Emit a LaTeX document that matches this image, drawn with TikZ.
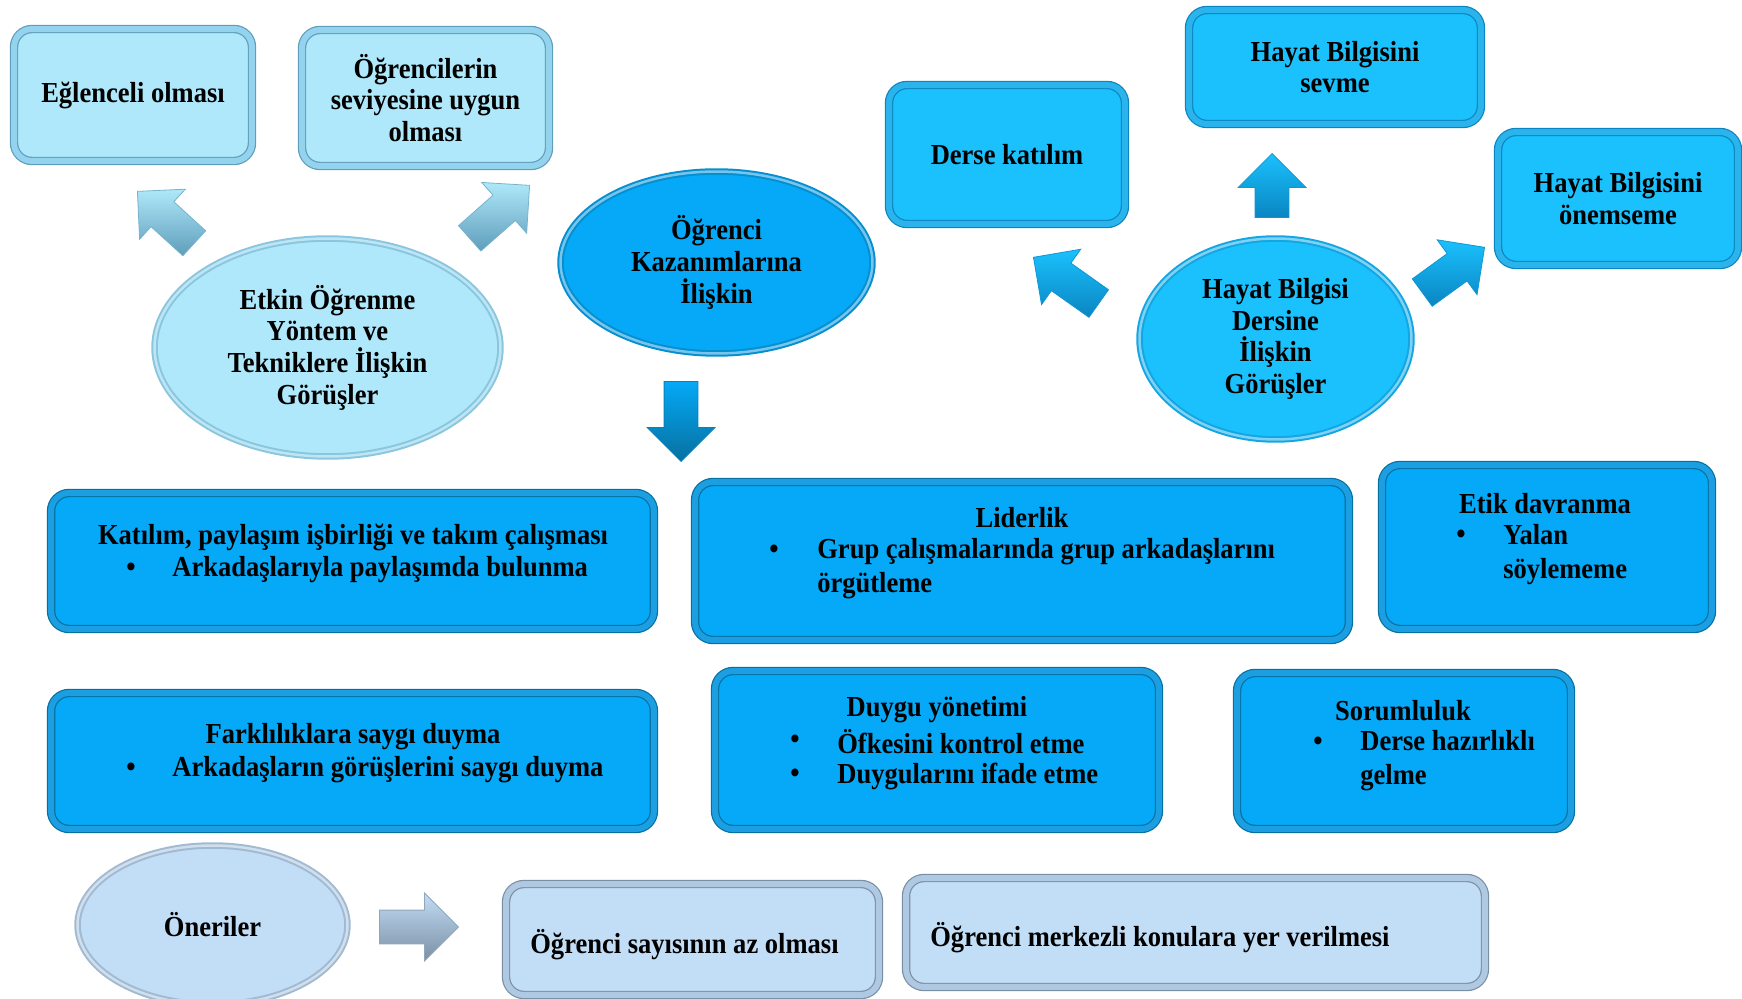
\documentclass[tikz,border=0pt]{standalone}
\usepackage{fontspec}
\setmainfont{Liberation Serif}[FakeStretch=0.915]
\usetikzlibrary{shapes, shapes.arrows, positioning}
\definecolor{lightfill}{HTML}{AEE8FA}
\definecolor{lightrim}{HTML}{93D3EE}
\definecolor{lightedge}{HTML}{5F9DBA}
\definecolor{medfill}{HTML}{1AC1FD}
\definecolor{medrim}{HTML}{2BB4EC}
\definecolor{mededge}{HTML}{0A85C2}
\definecolor{darkfill}{HTML}{05A9F7}
\definecolor{darkrim}{HTML}{1C9FE2}
\definecolor{darkedge}{HTML}{06709F}
\definecolor{palefill}{HTML}{C2DDF6}
\definecolor{palerim}{HTML}{AFC9E2}
\definecolor{paleedge}{HTML}{7A8FA3}
\tikzset{
  bevbox/.style={rectangle, rounded corners=0.36cm, fill=#1fill, draw=#1edge,
    double=#1rim, line width=0.024cm, double distance=0.12cm, inner sep=0pt, align=center},
  bevell/.style={ellipse, fill=#1fill, draw=#1edge!45!#1fill, double=#1rim!60!white,
    line width=0.04cm, double distance=0.05cm, inner sep=0pt, align=center},
  blockarr/.style={single arrow, single arrow head extend=0.34cm, single arrow tip angle=90,
    inner xsep=0pt, inner ysep=0.33cm, anchor=tip, draw=#1edge!70!#1fill, line width=0.016cm,
    top color=#1fill, bottom color=#1edge},
  bul/.style={inner sep=0pt},
  itm/.style={anchor=west, inner sep=0pt, align=left},
}

\begin{document}
\begin{tikzpicture}[x=0.02cm, y=-0.02cm, font=\bfseries\fontsize{16.5}{18}\selectfont]
    \useasboundingbox (0,0) rectangle (1742,999);

    % Etkin ogrenme group
    \node[bevbox=light, minimum width=4.76cm, minimum height=2.64cm] (eglence) at (133,95) {Eğlenceli olması};
    \node[bevbox=light, minimum width=4.94cm, minimum height=2.72cm] (seviye) at (425.5,98) {Öğrencilerin\\seviyesine uygun\\olması};
    \node[bevell=light, minimum width=6.92cm, minimum height=4.36cm] (etkin) at (327.5,347.5) {Etkin Öğrenme\\Yöntem ve\\Tekniklere İlişkin\\Görüşler};
    \node[blockarr=light, minimum height=1.54cm, rotate=137.6] (arrEg) at (137,191) {};
    \node[blockarr=light, minimum height=1.6cm, rotate=41.5] (arrSev) at (530,185) {};

    % Kazanimlar
    \node[bevell=dark, minimum width=6.24cm, minimum height=3.64cm] (kazanim) at (716.5,262.5) {Öğrenci\\Kazanımlarına\\İlişkin};
    \node[blockarr=dark, minimum height=1.6cm, rotate=-90] (arrKaz) at (681,462) {};

    % Hayat bilgisi group
    \node[bevbox=med, minimum width=4.72cm, minimum height=2.78cm] (katilim) at (1007,154.5) {Derse katılım};
    \node[bevbox=med, minimum width=5.84cm, minimum height=2.28cm] (sevme) at (1335,67) {Hayat Bilgisini\\sevme};
    \node[bevbox=med, minimum width=4.8cm, minimum height=2.66cm] (onem) at (1618,198.5) {Hayat Bilgisini\\önemseme};
    \node[bevell=med, minimum width=5.44cm, minimum height=4.02cm] (hayat) at (1275.5,339) {Hayat Bilgisi\\Dersine\\İlişkin\\Görüşler};
    \node[blockarr=med, minimum height=1.28cm, rotate=90] (arrSev2) at (1272,153) {};
    \node[blockarr=med, minimum height=1.6cm, rotate=144.7] (arrKat) at (1033,257) {};
    \node[blockarr=med, minimum height=1.54cm, rotate=36] (arrOnem) at (1485,247) {};

    % Kazanim boxes, first row
    \node[bevbox=dark, minimum width=12.06cm, minimum height=2.72cm] (takim) at (352.5,561) {};
    \node (takimT) at (353,537) {Katılım, paylaşım işbirliği ve takım çalışması};
    \node[bul] (takimB) at (131,570) {\textbullet};
    \node[itm] (takimI) at (172,570) {Arkadaşlarıyla paylaşımda bulunma};

    \node[bevbox=dark, minimum width=13.08cm, minimum height=3.16cm] (lider) at (1022,561) {};
    \node (liderT) at (1022,518) {Liderlik};
    \node[bul] (liderB) at (774,552) {\textbullet};
    \node[itm] (liderI) at (817,568.5) {Grup çalışmalarında grup arkadaşlarını\\[1pt]örgütleme};

    \node[bevbox=dark, minimum width=6.6cm, minimum height=3.28cm] (etik) at (1547,547) {};
    \node (etikT) at (1545,504) {Etik davranma};
    \node[bul] (etikB) at (1461,537) {\textbullet};
    \node[itm] (etikI) at (1503,554.5) {Yalan\\[1pt]söylememe};

    % Kazanim boxes, second row
    \node[bevbox=dark, minimum width=12.06cm, minimum height=2.72cm] (saygi) at (352.5,761) {};
    \node (saygiT) at (353,737) {Farklılıklara saygı duyma};
    \node[bul] (saygiB) at (131,770) {\textbullet};
    \node[itm] (saygiI) at (172,770) {Arkadaşların görüşlerini saygı duyma};

    \node[bevbox=dark, minimum width=8.88cm, minimum height=3.16cm] (duygu) at (937,750) {};
    \node (duyguT) at (937,710) {Duygu yönetimi};
    \node[bul] (duyguB1) at (795,742) {\textbullet};
    \node[itm] (duyguI1) at (837,742) {Öfkesini kontrol etme};
    \node[bul] (duyguB2) at (795,776) {\textbullet};
    \node[itm] (duyguI2) at (837,776) {Duygularını ifade etme};

    \node[bevbox=dark, minimum width=6.68cm, minimum height=3.12cm] (sorum) at (1404,751) {};
    \node (sorumT) at (1403,711) {Sorumluluk};
    \node[bul] (sorumB) at (1318,744) {\textbullet};
    \node[itm] (sorumI) at (1360,760.5) {Derse hazırlıklı\\[1pt]gelme};

    % Oneriler
    \node[bevell=pale, minimum width=5.4cm, minimum height=3.18cm] (oneri) at (212.5,925) {Öneriler};
    \node[blockarr=pale, minimum height=1.58cm] (arrOn) at (459,927) {};
    \node[bevbox=pale, minimum width=7.46cm, minimum height=2.22cm] (sayi) at (692.5,939.5) {};
    \node[itm] (sayiT) at (530,945) {Öğrenci sayısının az olması};
    \node[bevbox=pale, minimum width=11.58cm, minimum height=2.18cm] (merkez) at (1195.5,932.5) {};
    \node[itm] (merkezT) at (930,938) {Öğrenci merkezli konulara yer verilmesi};
\end{tikzpicture}
\end{document}
